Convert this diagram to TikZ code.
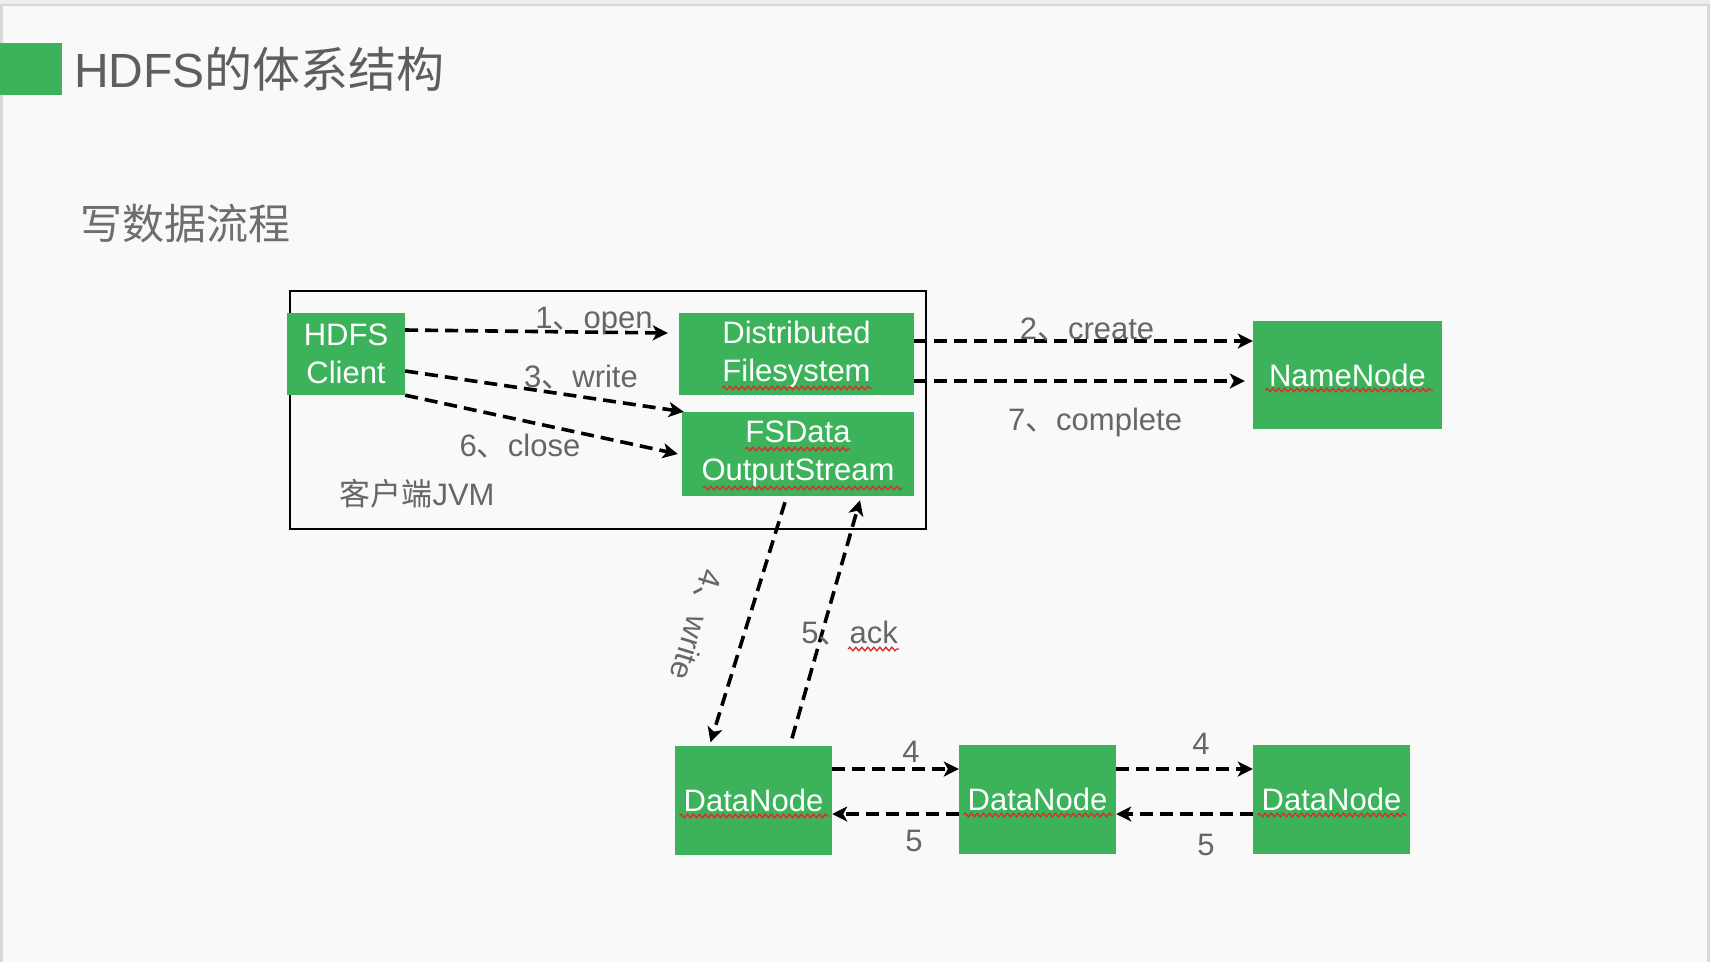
\documentclass[tikz,border=0pt]{standalone}
\usepackage{fontspec}
\setmainfont{Liberation Sans}
\newfontfamily\cjk{Noto Sans CJK SC}
\usetikzlibrary{arrows.meta,decorations.pathmorphing}
\definecolor{boxgreen}{HTML}{3CB35B}
\definecolor{inkgray}{HTML}{666666}
\definecolor{titlegray}{HTML}{5E5E5E}
\definecolor{subgray}{HTML}{6E6E6E}
\definecolor{wavered}{HTML}{D9302C}
\definecolor{paper}{HTML}{F9F9F9}
\definecolor{topband}{HTML}{EEEEEE}
\definecolor{edgegray}{HTML}{D8D8D8}
\newcommand\zh[1]{{\cjk #1}}

\begin{document}
\begin{tikzpicture}[x=1pt,y=-1pt,
  box/.style={fill=boxgreen, text=white, inner sep=0pt, align=center,
              font=\fontsize{31}{38}\selectfont},
  lbl/.style={text=inkgray, inner sep=0pt, anchor=base,
              font=\fontsize{31}{36}\selectfont},
  flow/.style={line width=3.6pt, dash pattern=on 13pt off 7pt,
               -{Stealth[length=15pt,width=15pt,inset=4pt]}},
  squiggle/.style={draw=wavered, line width=1.4pt, decorate,
                   decoration={snake, amplitude=1.8pt, segment length=6pt}},
]
% page and its frame
\useasboundingbox (0,0) rectangle (1710,962);
\fill[paper] (0,0) rectangle (1710,962);
\fill[topband] (0,0) rectangle (1710,4);
\fill[edgegray] (0,4) rectangle (1710,6);
\fill[edgegray] (0,4) rectangle (3,962);
\fill[edgegray] (1707,4) rectangle (1710,962);

% headings
\fill[boxgreen] (0,43) rectangle (62,95);
\node[anchor=base west, inner sep=0pt, text=titlegray,
      font=\fontsize{48}{48}\selectfont] (title) at (74,87) {HDFS\zh{的体系结构}};
\node[anchor=west, inner sep=0pt, text=subgray,
      font=\cjk\fontsize{42}{42}\selectfont] (subtitle) at (80,224) {写数据流程};

% client JVM
\draw[line width=2pt] (290,291) rectangle (926,529);
\node[lbl] (jvm) at (417,505) {\zh{客户端}JVM};

\node[box, minimum width=118pt, minimum height=82pt] (client) at (346,354) {HDFS\\Client};
\node[box, minimum width=235pt, minimum height=82pt] (dfs) at (796.5,354) {Distributed\\Filesystem};
\node[box, minimum width=232pt, minimum height=84pt] (fsd) at (798,454) {FSData\\OutputStream};
\node[box, minimum width=189pt, minimum height=108pt] (nn) at (1347.5,375) {NameNode};
\node[box, minimum width=157pt, minimum height=109pt] (dn1) at (753.5,800) {DataNode};
\node[box, minimum width=157pt, minimum height=109pt] (dn2) at (1037.5,799) {DataNode};
\node[box, minimum width=157pt, minimum height=109pt] (dn3) at (1331.5,799) {DataNode};

% spell-check marks under the words
\draw[squiggle] ([xshift=-74.5pt,yshift=-34pt]dfs.center) -- ++(150,0);
\draw[squiggle] ([xshift=-53pt,yshift=5pt]fsd.center) -- ++(105,0);
\draw[squiggle] ([xshift=-95pt,yshift=-34pt]fsd.center) -- ++(199,0);
\draw[squiggle] ([xshift=-82.5pt,yshift=-15pt]nn.center) -- ++(168,0);
\draw[squiggle] ([xshift=-74pt,yshift=-16pt]dn1.center) -- ++(149,0);
\draw[squiggle] ([xshift=-74pt,yshift=-16pt]dn2.center) -- ++(149,0);
\draw[squiggle] ([xshift=-74pt,yshift=-16pt]dn3.center) -- ++(149,0);

% client calls
\draw[flow] ([yshift=24pt]client.east) -- ([xshift=-11pt,yshift=21pt]dfs.west);
\node[lbl] (lopen) at (594,328) {1\zh{、}open};
\draw[flow] ([yshift=-17pt]client.east) -- ([xshift=2pt]fsd.north west);
\node[lbl] (lwrite) at (581,387) {3\zh{、}write};
\draw[flow] (client.south east) -- ([xshift=-4pt]fsd.west);
\node[lbl] (lclose) at (520,456) {6\zh{、}close};

% namenode calls
\draw[flow] ([yshift=13pt]dfs.east) -- ([yshift=34pt]nn.west);
\node[lbl] (lcreate) at (1087,339) {2\zh{、}create};
\draw[flow] ([yshift=-27pt]dfs.east) -- ([xshift=-8pt,yshift=-6pt]nn.west);
\node[lbl] (lcomplete) at (1095,430) {7\zh{、}complete};

% stream to first datanode and back
\draw[flow] ([xshift=-13pt,yshift=-6pt]fsd.south) -- ([xshift=-43pt,yshift=3pt]dn1.north);
\node[text=inkgray, inner sep=0pt, rotate=-107,
      font=\fontsize{31}{36}\selectfont] (lwrite4) at (696,625) {4\zh{、}write};
\draw[flow] ([xshift=38.5pt,yshift=7pt]dn1.north) -- ([xshift=62pt,yshift=-4pt]fsd.south);
\node[lbl, anchor=base east] (lack) at (898,643) {5\zh{、}ack};
\draw[squiggle] ([xshift=-50pt,yshift=-6pt]lack.base east) -- ++(51,0);

% pipeline between datanodes
\draw[flow] ([yshift=31pt]dn1.east) -- ([yshift=30pt]dn2.west);
\node[lbl] (l4a) at (911,762) {4};
\draw[flow] ([yshift=-15pt]dn2.west) -- ([yshift=-14pt]dn1.east);
\node[lbl] (l5a) at (914,851) {5};
\draw[flow] ([yshift=30pt]dn2.east) -- ([yshift=30pt]dn3.west);
\node[lbl] (l4b) at (1201,754) {4};
\draw[flow] ([yshift=-15pt]dn3.west) -- ([yshift=-15pt]dn2.east);
\node[lbl] (l5b) at (1206,855) {5};
\end{tikzpicture}
\end{document}
